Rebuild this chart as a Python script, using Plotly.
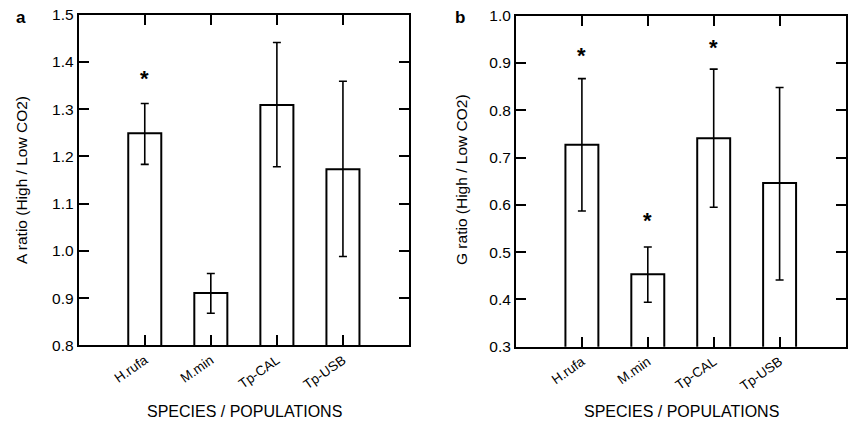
import plotly.graph_objects as go

categories = ["H.rufa", "M.min", "Tp-CAL", "Tp-USB"]

# Panel a: A ratio
a_values = [1.249, 0.911, 1.309, 1.173]
a_err_hi = [1.312, 0.952, 1.441, 1.359]
a_err_lo = [1.183, 0.868, 1.178, 0.988]
a_star = [True, False, False, False]
a_star_y = [1.37, None, None, None]

# Panel b: G ratio
b_values = [0.727, 0.453, 0.741, 0.646]
b_err_hi = [0.867, 0.511, 0.887, 0.848]
b_err_lo = [0.587, 0.394, 0.595, 0.441]
b_star = [True, True, True, False]
b_star_y = [0.92, 0.572, 0.938, None]

a_ticks = [0.8, 0.9, 1.0, 1.1, 1.2, 1.3, 1.4, 1.5]
b_ticks = [0.3, 0.4, 0.5, 0.6, 0.7, 0.8, 0.9, 1.0]

FONT = "Liberation Sans, Arial, sans-serif"
W, H = 848, 426

fig = go.Figure()

xs = list(range(len(categories)))

def add_panel(vals, hi, lo, xa, ya):
    fig.add_trace(go.Bar(
        x=xs, y=vals, width=0.5,
        marker=dict(color="white", line=dict(color="black", width=2)),
        error_y=dict(type="data", symmetric=False,
                     array=[h - v for h, v in zip(hi, vals)],
                     arrayminus=[v - l for l, v in zip(lo, vals)],
                     color="black", thickness=1.6, width=4),
        xaxis=xa, yaxis=ya, showlegend=False, hoverinfo="skip",
    ))

add_panel(a_values, a_err_hi, a_err_lo, "x", "y")
add_panel(b_values, b_err_hi, b_err_lo, "x2", "y2")

def xaxis_cfg(domain, anchor):
    return dict(domain=domain, range=[-1, 4], tickmode="array", tickvals=xs,
                ticktext=categories, tickangle=-35, ticks="inside", ticklen=10,
                tickwidth=2, tickcolor="black", showline=True, linecolor="black",
                linewidth=2, mirror="ticks", showgrid=False, zeroline=False,
                anchor=anchor, automargin=False,
                tickfont=dict(family=FONT, size=13.5, color="black"))

def yaxis_cfg(domain, rng, ticks, anchor):
    return dict(domain=domain, range=rng, tickmode="array", tickvals=ticks,
                ticktext=[f"{t:.1f}" for t in ticks], ticks="inside", ticklen=10,
                tickwidth=2, tickcolor="black", showline=True, linecolor="black",
                linewidth=2, mirror="ticks", showgrid=False, zeroline=False,
                anchor=anchor, automargin=False,
                tickfont=dict(family=FONT, size=15.5, color="black"))

def star_ann(xref, yref, x, y):
    return dict(x=x, y=y, xref=xref, yref=yref, text="<b>*</b>",
                xanchor="center", yanchor="middle", showarrow=False, yshift=-2,
                font=dict(family=FONT, size=22, color="black"))

annotations = []
for i, (s, sy) in enumerate(zip(a_star, a_star_y)):
    if s:
        annotations.append(star_ann("x", "y", xs[i], sy))
for i, (s, sy) in enumerate(zip(b_star, b_star_y)):
    if s:
        annotations.append(star_ann("x2", "y2", xs[i], sy))

def paper_text(px, py, text, size, angle=0):
    return dict(x=px / W, y=1 - py / H, xref="paper", yref="paper", text=text,
                xanchor="center", yanchor="middle", textangle=angle,
                showarrow=False, font=dict(family=FONT, size=size, color="black"))

annotations += [
    paper_text(21, 17, "<b>a</b>", 17),
    paper_text(460, 17, "<b>b</b>", 17),
    paper_text(21, 180, "A ratio (High / Low CO2)", 15.5, -90),
    paper_text(461, 180, "G ratio (High / Low CO2)", 15.5, -90),
    paper_text(244, 411, "SPECIES / POPULATIONS", 16),
    paper_text(681, 411, "SPECIES / POPULATIONS", 16),
]

fig.update_layout(
    width=W, height=H,
    margin=dict(l=0, r=0, t=0, b=0, pad=0, autoexpand=False),
    paper_bgcolor="white", plot_bgcolor="white",
    xaxis=xaxis_cfg([78.7 / W, 409 / W], "y"),
    yaxis=yaxis_cfg([1 - 345.3 / H, 1 - 14.7 / H], [0.8, 1.5], a_ticks, "x"),
    xaxis2=xaxis_cfg([516 / W, 845.5 / W], "y2"),
    yaxis2=yaxis_cfg([1 - 346.7 / H, 1 - 15.7 / H], [0.3, 1.0], b_ticks, "x2"),
    annotations=annotations,
    font=dict(family=FONT, color="black"),
)

fig.write_html(
    "out.html",
    config={"displayModeBar": False},
    post_script="document.body.style.margin='0';document.body.style.overflow='hidden';",
)
